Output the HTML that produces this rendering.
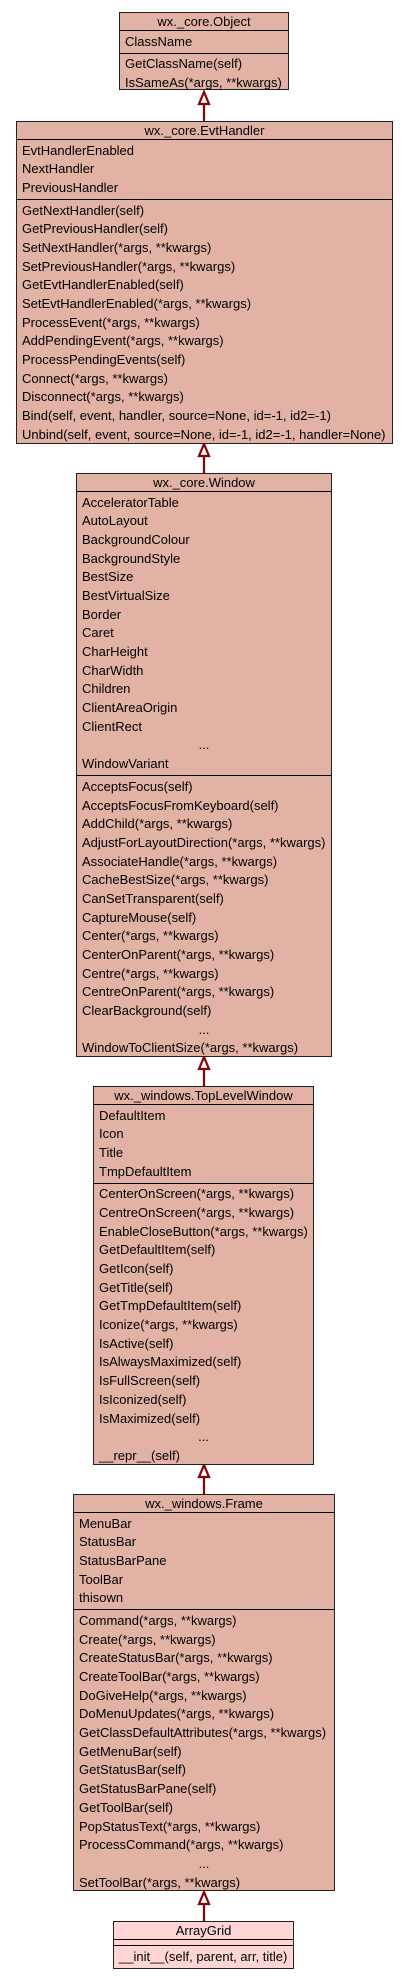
<!DOCTYPE html>
<html><head><meta charset="utf-8"><style>
html,body{margin:0;padding:0;background:#fff;width:408px;height:1979px;overflow:hidden}
body{position:relative;font-family:"Liberation Sans",sans-serif;font-size:13px;color:#000}
.b{position:absolute;box-sizing:border-box;border:1.3px solid #222;background:#e2b2a4;display:flex;flex-direction:column}
.t{height:17px;line-height:17px;text-align:center;border-bottom:1.3px solid #000;flex:none;white-space:nowrap}
.s{padding:1.5px 5px 1.5px 5px;flex:none}
.s+.s{border-top:1.3px solid #000;flex:1}
.r{height:18.7px;line-height:18.7px;white-space:nowrap}
.c{text-align:center}
svg{position:absolute;left:0;top:0}
</style></head><body>
<svg width="408" height="1979">
<g stroke="#8b0000" stroke-width="2.2" fill="#fff">
<line x1="204" y1="104" x2="204" y2="121"/><polygon points="204,92 199,104 209,104"/>
<line x1="204" y1="456" x2="204" y2="473"/><polygon points="204,444 199,456 209,456"/>
<line x1="204" y1="1069" x2="204" y2="1086"/><polygon points="204,1057 199,1069 209,1069"/>
<line x1="204" y1="1477" x2="204" y2="1494"/><polygon points="204,1465 199,1477 209,1477"/>
<line x1="204" y1="1904" x2="204" y2="1921"/><polygon points="204,1892 199,1904 209,1904"/>
</g></svg>

<div class="b" style="left:119px;top:12px;width:170px;height:78px">
<div class="t">wx._core.Object</div>
<div class="s"><div class="r">ClassName</div></div>
<div class="s"><div class="r">GetClassName(self)</div><div class="r">IsSameAs(*args, **kwargs)</div></div>
</div>

<div class="b" style="left:16px;top:121px;width:377px;height:323px">
<div class="t">wx._core.EvtHandler</div>
<div class="s"><div class="r">EvtHandlerEnabled</div><div class="r">NextHandler</div><div class="r">PreviousHandler</div></div>
<div class="s">
<div class="r">GetNextHandler(self)</div><div class="r">GetPreviousHandler(self)</div><div class="r">SetNextHandler(*args, **kwargs)</div><div class="r">SetPreviousHandler(*args, **kwargs)</div><div class="r">GetEvtHandlerEnabled(self)</div><div class="r">SetEvtHandlerEnabled(*args, **kwargs)</div><div class="r">ProcessEvent(*args, **kwargs)</div><div class="r">AddPendingEvent(*args, **kwargs)</div><div class="r">ProcessPendingEvents(self)</div><div class="r">Connect(*args, **kwargs)</div><div class="r">Disconnect(*args, **kwargs)</div><div class="r">Bind(self, event, handler, source=None, id=-1, id2=-1)</div><div class="r">Unbind(self, event, source=None, id=-1, id2=-1, handler=None)</div>
</div></div>

<div class="b" style="left:76px;top:473px;width:256px;height:584px">
<div class="t">wx._core.Window</div>
<div class="s"><div class="r">AcceleratorTable</div><div class="r">AutoLayout</div><div class="r">BackgroundColour</div><div class="r">BackgroundStyle</div><div class="r">BestSize</div><div class="r">BestVirtualSize</div><div class="r">Border</div><div class="r">Caret</div><div class="r">CharHeight</div><div class="r">CharWidth</div><div class="r">Children</div><div class="r">ClientAreaOrigin</div><div class="r">ClientRect</div><div class="r c">...</div><div class="r">WindowVariant</div></div>
<div class="s"><div class="r">AcceptsFocus(self)</div><div class="r">AcceptsFocusFromKeyboard(self)</div><div class="r">AddChild(*args, **kwargs)</div><div class="r">AdjustForLayoutDirection(*args, **kwargs)</div><div class="r">AssociateHandle(*args, **kwargs)</div><div class="r">CacheBestSize(*args, **kwargs)</div><div class="r">CanSetTransparent(self)</div><div class="r">CaptureMouse(self)</div><div class="r">Center(*args, **kwargs)</div><div class="r">CenterOnParent(*args, **kwargs)</div><div class="r">Centre(*args, **kwargs)</div><div class="r">CentreOnParent(*args, **kwargs)</div><div class="r">ClearBackground(self)</div><div class="r c">...</div><div class="r">WindowToClientSize(*args, **kwargs)</div></div>
</div>

<div class="b" style="left:93px;top:1086px;width:221px;height:379px">
<div class="t">wx._windows.TopLevelWindow</div>
<div class="s"><div class="r">DefaultItem</div><div class="r">Icon</div><div class="r">Title</div><div class="r">TmpDefaultItem</div></div>
<div class="s"><div class="r">CenterOnScreen(*args, **kwargs)</div><div class="r">CentreOnScreen(*args, **kwargs)</div><div class="r">EnableCloseButton(*args, **kwargs)</div><div class="r">GetDefaultItem(self)</div><div class="r">GetIcon(self)</div><div class="r">GetTitle(self)</div><div class="r">GetTmpDefaultItem(self)</div><div class="r">Iconize(*args, **kwargs)</div><div class="r">IsActive(self)</div><div class="r">IsAlwaysMaximized(self)</div><div class="r">IsFullScreen(self)</div><div class="r">IsIconized(self)</div><div class="r">IsMaximized(self)</div><div class="r c">...</div><div class="r">__repr__(self)</div></div>
</div>

<div class="b" style="left:73px;top:1494px;width:262px;height:397px">
<div class="t">wx._windows.Frame</div>
<div class="s"><div class="r">MenuBar</div><div class="r">StatusBar</div><div class="r">StatusBarPane</div><div class="r">ToolBar</div><div class="r">thisown</div></div>
<div class="s"><div class="r">Command(*args, **kwargs)</div><div class="r">Create(*args, **kwargs)</div><div class="r">CreateStatusBar(*args, **kwargs)</div><div class="r">CreateToolBar(*args, **kwargs)</div><div class="r">DoGiveHelp(*args, **kwargs)</div><div class="r">DoMenuUpdates(*args, **kwargs)</div><div class="r">GetClassDefaultAttributes(*args, **kwargs)</div><div class="r">GetMenuBar(self)</div><div class="r">GetStatusBar(self)</div><div class="r">GetStatusBarPane(self)</div><div class="r">GetToolBar(self)</div><div class="r">PopStatusText(*args, **kwargs)</div><div class="r">ProcessCommand(*args, **kwargs)</div><div class="r c">...</div><div class="r">SetToolBar(*args, **kwargs)</div></div>
</div>

<div class="b" style="left:113px;top:1921px;width:181px;height:48px;background:#fdd5d5">
<div class="t">ArrayGrid</div>
<div class="s" style="height:5px;padding:0"></div>
<div class="s"><div class="r">__init__(self, parent, arr, title)</div></div>
</div>
</body></html>
